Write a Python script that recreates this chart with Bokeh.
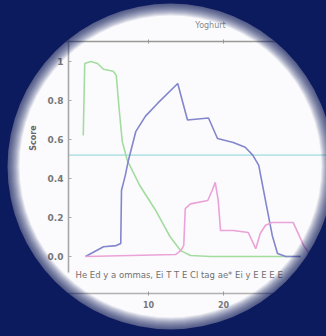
from bokeh.plotting import figure
from bokeh.models import LinearAxis, FixedTicker, Label, CustomJSTickFormatter
from bokeh.embed import file_html
from bokeh.resources import INLINE

# ---------------- data ----------------
green_x = [1.3, 1.5, 2.3, 3.2, 4.0, 5.3, 5.7, 6.1, 6.5, 7.2, 8.9, 10.9, 12.9, 14.3, 15.6, 18.3, 30.3]
green_y = [0.62, 0.99, 1.0, 0.99, 0.96, 0.95, 0.93, 0.75, 0.59, 0.49, 0.36, 0.24, 0.10, 0.03, 0.005, 0.0, 0.0]

blue_x = [1.6, 4.0, 5.7, 6.3, 6.4, 6.9, 7.3, 8.3, 9.6, 11.2, 13.9, 14.5, 15.2, 18.0, 19.2, 21.3,
          22.9, 23.9, 24.7, 25.6, 26.5, 27.2, 28.3, 30.3]
blue_y = [0.0, 0.05, 0.056, 0.067, 0.34, 0.415, 0.49, 0.64, 0.72, 0.785, 0.887, 0.80, 0.70, 0.71,
          0.605, 0.585, 0.56, 0.52, 0.467, 0.287, 0.108, 0.015, 0.0, 0.0]

pink_x = [1.6, 13.6, 14.3, 14.7, 14.9, 15.6, 17.9, 18.5, 18.9, 19.3, 19.6, 21.3, 23.3, 24.3,
          24.9, 25.6, 26.5, 29.3, 30.7, 31.6]
pink_y = [0.0, 0.01, 0.03, 0.056, 0.246, 0.27, 0.287, 0.34, 0.38, 0.287, 0.133, 0.133, 0.123,
          0.04, 0.118, 0.16, 0.174, 0.174, 0.056, 0.005]

threshold = 0.52
x_ticks = [10, 20]
y_ticks = [0.0, 0.2, 0.4, 0.6, 0.8, 1.0]
y_tick_labels = {0.0: "0.0", 1.0: "1"}
title_text = "Yoghurt"
y_label = "Score"
caption = "He Ed y a ommas, Ei T T E Cl tag ae* Ei y E E E E"

# ---------------- layout helpers ----------------
W, H = 326, 336
NAVY = "#0c1a5e"
PX_X, PX_Y = 7.5, 195.0      # pixels per data unit
X0, Y0 = 73.0, 256.0         # canvas pixel of data origin (from left / top)


def dx(px):
    return (px - X0) / PX_X


def dy(py):
    return (Y0 - py) / PX_Y


p = figure(width=W, height=H, x_range=(dx(0), dx(W)), y_range=(dy(H), dy(0)),
           output_backend="svg", toolbar_location=None,
           x_axis_location=None, y_axis_location=None, min_border=0)
p.grid.visible = False
p.outline_line_color = None
p.background_fill_color = "#fbfbfd"
p.border_fill_color = NAVY

FONT = "DejaVu Sans"
GRAY = "#777777"

# left axis
ly = LinearAxis(fixed_location=dx(68), ticker=FixedTicker(ticks=y_ticks),
                major_label_overrides=y_tick_labels, bounds=(dy(272), 1.3),
                axis_label=y_label, axis_label_text_font=FONT, axis_label_text_font_size="8px",
                axis_label_text_font_style="bold", axis_label_text_color="#666666",
                axis_label_standoff=7)
ly.axis_line_color = "#a8a8a8"
ly.axis_line_width = 1.6
ly.major_tick_in = 3
ly.major_tick_out = 0
ly.major_tick_line_color = "#a8a8a8"
ly.minor_tick_line_color = None
ly.major_label_text_font = FONT
ly.major_label_text_font_size = "9px"
ly.major_label_text_font_style = "bold"
ly.major_label_text_color = GRAY
ly.major_label_standoff = 5
p.add_layout(ly, "left")

# bottom axis
bx = LinearAxis(fixed_location=dy(293), ticker=FixedTicker(ticks=x_ticks))
bx.axis_line_color = "#b0b0b0"
bx.axis_line_width = 1.4
bx.major_tick_in = 2
bx.major_tick_out = 2
bx.major_tick_line_color = "#999999"
bx.minor_tick_line_color = None
bx.major_label_text_font = FONT
bx.major_label_text_font_size = "8px"
bx.major_label_text_font_style = "bold"
bx.major_label_text_color = GRAY
bx.major_label_standoff = 5
p.add_layout(bx, "below")

# top axis (mirror, no labels)
tx = LinearAxis(fixed_location=dy(41), ticker=FixedTicker(ticks=x_ticks),
                formatter=CustomJSTickFormatter(code="return ''"))
tx.axis_line_color = "#999999"
tx.axis_line_width = 1.6
tx.major_tick_in = 2
tx.major_tick_out = 2
tx.major_tick_line_color = "#999999"
tx.minor_tick_line_color = None
p.add_layout(tx, "above")

# series
p.line([dx(68), dx(W) + 5], [threshold, threshold], line_color="#b8e4e6", line_width=1.8)
p.line(green_x, green_y, line_color="#a4dca0", line_width=1.6)
p.line(blue_x, blue_y, line_color="#8286cc", line_width=1.6)
p.line(pink_x, pink_y, line_color="#eaa2d8", line_width=1.6)

# texts
p.add_layout(Label(x=210, y=H - 25, x_units="screen", y_units="screen", text=title_text,
                   text_font=FONT, text_font_size="8px", text_color="#888888",
                   text_align="center", text_baseline="middle", level="annotation"))
p.add_layout(Label(x=75, y=H - 274, x_units="screen", y_units="screen", text=caption,
                   text_font=FONT, text_font_size="8.5px", text_color="#707070",
                   text_align="left", text_baseline="middle", level="annotation"))

# circular mask with a soft edge
cx, cy, R = dx(170), dy(166), 158
for r in range(151, 163):
    p.annulus(x=[cx], y=[cy], inner_radius=r, outer_radius=700,
              inner_radius_units="screen", outer_radius_units="screen",
              fill_color=NAVY, fill_alpha=0.09, line_color=None, level="overlay")
p.annulus(x=[cx], y=[cy], inner_radius=R + 5, outer_radius=700,
          inner_radius_units="screen", outer_radius_units="screen",
          fill_color=NAVY, fill_alpha=1.0, line_color=None, level="overlay")

html = file_html(p, INLINE)
html = html.replace("</head>", "<style>body{background-color:%s;}</style></head>" % NAVY, 1)
open("out.html", "w").write(html)
